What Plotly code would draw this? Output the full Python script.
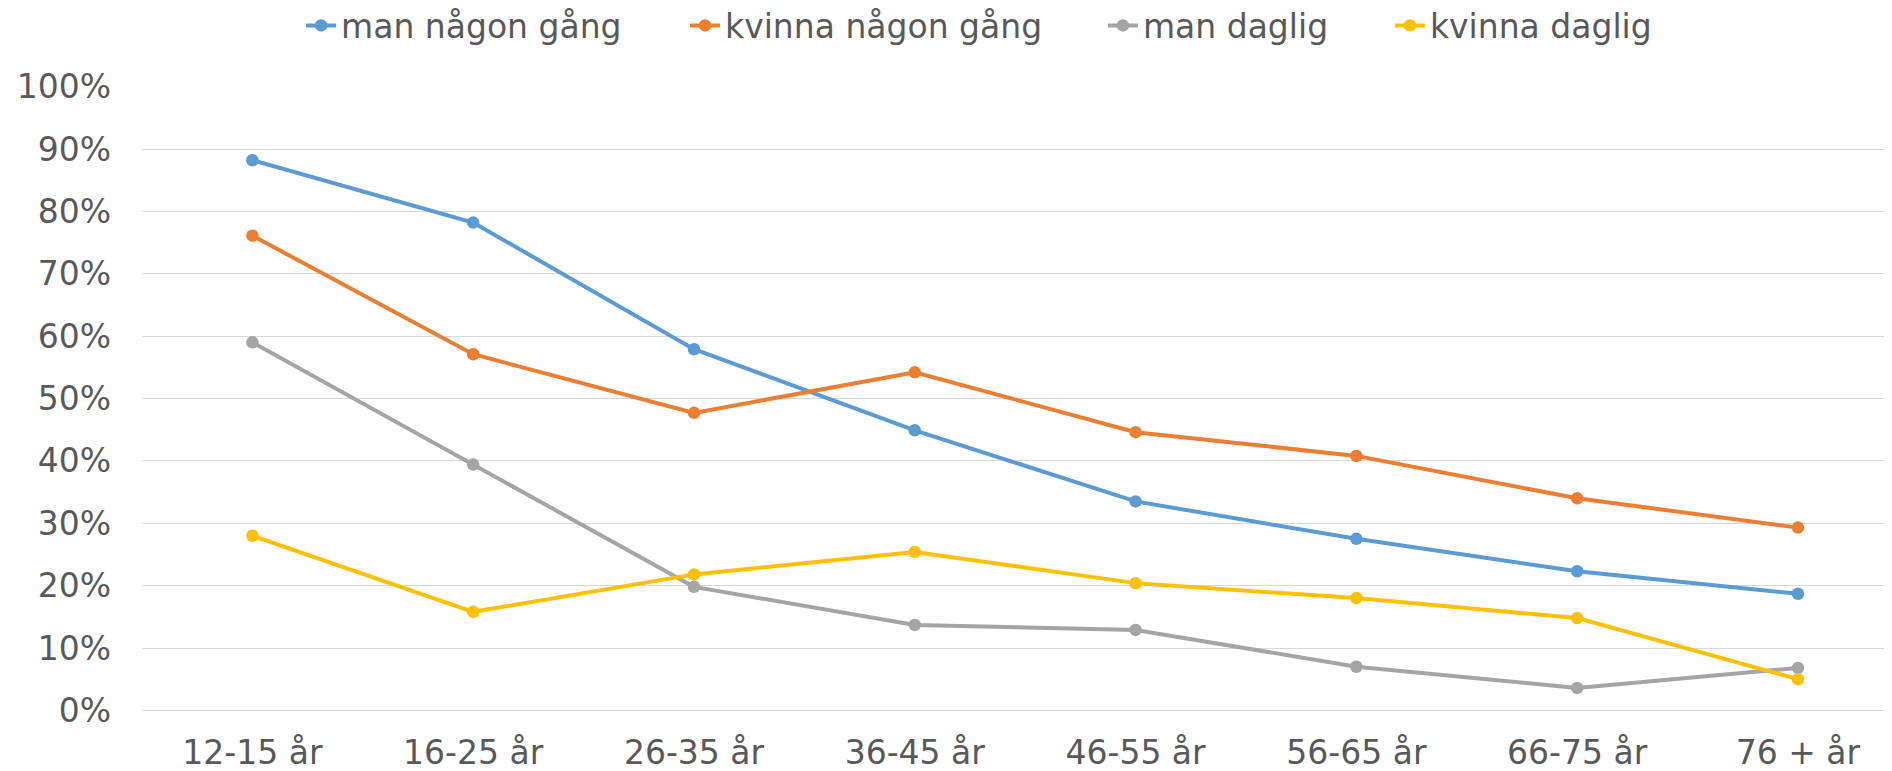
import plotly.graph_objects as go

categories = ["12-15 år", "16-25 år", "26-35 år", "36-45 år", "46-55 år", "56-65 år", "66-75 år", "76 + år"]
man_nagon_gang = [0.882, 0.782, 0.579, 0.449, 0.335, 0.275, 0.223, 0.187]
kvinna_nagon_gang = [0.761, 0.571, 0.477, 0.542, 0.446, 0.408, 0.340, 0.293]
man_daglig = [0.590, 0.394, 0.198, 0.137, 0.129, 0.070, 0.036, 0.068]
kvinna_daglig = [0.280, 0.158, 0.218, 0.254, 0.204, 0.180, 0.148, 0.050]
y_ticks = [0, 0.1, 0.2, 0.3, 0.4, 0.5, 0.6, 0.7, 0.8, 0.9, 1.0]
y_tick_labels = ["0%", "10%", "20%", "30%", "40%", "50%", "60%", "70%", "80%", "90%", "100%"]

series_names = ["man någon gång", "kvinna någon gång", "man daglig", "kvinna daglig"]
series_values = [man_nagon_gang, kvinna_nagon_gang, man_daglig, kvinna_daglig]
series_colors = ["#5B9BD5", "#ED7D31", "#A5A5A5", "#FFC000"]
legend_ids = ["legend", "legend2", "legend3", "legend4"]
legend_x = [0.0909, 0.3103, 0.5491, 0.7131]

font_family = "DejaVu Sans"
text_color = "#595959"
fs = 33

fig = go.Figure()
for name, vals, color, lg in zip(series_names, series_values, series_colors, legend_ids):
    fig.add_trace(go.Scatter(
        x=categories, y=vals, name=name, mode="lines+markers",
        line=dict(color=color, width=4),
        marker=dict(color=color, size=12.5),
        legend=lg,
    ))

legend_common = dict(
    orientation="h", xanchor="left", yanchor="middle", yref="container",
    y=1 - 17.5 / 763, font=dict(family=font_family, size=fs, color=text_color),
    bgcolor="rgba(0,0,0,0)", itemwidth=30,
)
layout_legends = {}
for lg, lx in zip(legend_ids, legend_x):
    layout_legends[lg] = dict(legend_common, x=lx)

fig.update_layout(
    width=1884, height=763,
    margin=dict(l=134, r=0, t=78, b=60, autoexpand=False),
    plot_bgcolor="white", paper_bgcolor="white",
    font=dict(family=font_family, size=fs, color=text_color),
    showlegend=True,
    xaxis=dict(
        type="category", range=[-0.5, 7.426], showgrid=False, zeroline=False,
        showline=False, ticks="", ticklabelstandoff=19, automargin=False,
        tickfont=dict(size=fs, color=text_color),
    ),
    yaxis=dict(
        range=[-0.001, 1.001], tickvals=y_ticks, ticktext=y_tick_labels,
        showgrid=True, gridcolor="#D9D9D9", gridwidth=1.3,
        zeroline=True, zerolinecolor="#D9D9D9", zerolinewidth=1.3,
        showline=False, ticks="", ticklabelstandoff=30, automargin=False,
        tickfont=dict(size=fs, color=text_color),
    ),
    **layout_legends,
)

fig.write_html("out.html")
